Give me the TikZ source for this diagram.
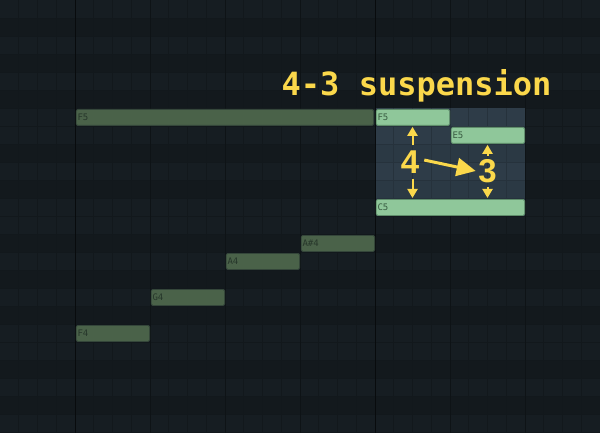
\documentclass[tikz,border=0pt]{standalone}
\usepackage{fontspec}
\usetikzlibrary{positioning}
\usetikzlibrary{arrows.meta}
\newfontfamily\monofont{DejaVu Sans Mono}
\newfontfamily\digitfont{Liberation Sans}
\definecolor{bgRow}{HTML}{161D22}
\definecolor{bgBlack}{HTML}{13191D}
\definecolor{gridStep}{HTML}{12181C}
\definecolor{gridBeat}{HTML}{0E1316}
\definecolor{gridBar}{HTML}{080B0D}
\definecolor{selBg}{HTML}{2E3C48}
\definecolor{selBlack}{HTML}{2B3944}
\definecolor{selGrid}{HTML}{26323C}
\definecolor{noteFill}{HTML}{4A6249}
\definecolor{noteEdge}{HTML}{34463A}
\definecolor{noteText}{HTML}{26362A}
\definecolor{selFill}{HTML}{8FC79A}
\definecolor{selEdge}{HTML}{5E8C6A}
\definecolor{selText}{HTML}{385A40}
\definecolor{markYellow}{HTML}{FBD84B}
\newcommand{\Rh}{18}
\newcommand{\Sw}{18.75}
\tikzstyle{note} = [draw=noteEdge, fill=noteFill, rounded corners=1.5pt, line width=0.8pt, minimum height=16pt, inner sep=0pt, anchor=north west]
\tikzstyle{selnote} = [note, draw=selEdge, fill=selFill]
\tikzstyle{notelbl} = [inner sep=0pt, text=noteText, font=\monofont\fontsize{9}{9}\selectfont]
\tikzstyle{sellbl} = [notelbl, text=selText]
\tikzstyle{digit} = [inner sep=0pt, text=markYellow, font=\digitfont\bfseries\fontsize{33}{33}\selectfont]
\tikzstyle{titletext} = [inner sep=0pt, text=markYellow, font=\monofont\bfseries\fontsize{32}{32}\selectfont]
\tikzstyle{markarrow} = [draw=markYellow, line width=2pt, -{Triangle[width=10pt,length=9pt]}, shorten <=5pt, shorten >=1pt]
\tikzstyle{bigarrow} = [draw=markYellow, line width=3pt, -{Triangle[width=18pt,length=19pt]}, shorten <=5pt, shorten >=2.5pt]

\begin{document}
\begin{tikzpicture}[x=1pt, y=-1pt]
\useasboundingbox (0,0) rectangle (600,433);

% Piano roll background
\fill[bgRow] (0,0) rectangle (600,433);
\foreach \r in {1,3,5,8,10,13,15,17,20,22}
  \fill[bgBlack] (0,\r*\Rh) rectangle (600,\r*\Rh+\Rh);
\foreach \c in {1,...,31}
  \draw[gridStep, line width=0.8pt] (\c*\Sw,0) -- (\c*\Sw,433);
\foreach \r in {1,...,24}
  \draw[gridStep, line width=0.8pt] (0,\r*\Rh) -- (600,\r*\Rh);
\foreach \c in {2,3,4,6,7}
  \draw[gridBeat, line width=0.9pt] (\c*75,0) -- (\c*75,433);

% Selection
\fill[selBg] (375,108) rectangle (525,216);
\foreach \r in {8,10}
  \fill[selBlack] (375,\r*\Rh) rectangle (525,\r*\Rh+\Rh);
\foreach \c in {1,...,7}
  \draw[selGrid, line width=0.8pt] (375+\c*\Sw,108) -- (375+\c*\Sw,216);
\foreach \r in {7,...,11}
  \draw[selGrid, line width=0.8pt] (375,\r*\Rh) -- (525,\r*\Rh);
\foreach \c in {1,5}
  \draw[gridBar, line width=1pt] (\c*75,0) -- (\c*75,433);

% Define nodes
\node[note, minimum width=297.5pt]      (f5long) at (75.8,109)  {};
\node[note, minimum width=73.5pt]       (as4)    at (300.8,235) {};
\node[note, minimum width=73.5pt]       (a4)     at (225.8,253) {};
\node[note, minimum width=73.5pt]       (g4)     at (150.8,289) {};
\node[note, minimum width=73.5pt]       (f4)     at (75.8,325)  {};
\node[selnote, minimum width=73.5pt]    (f5sel)  at (375.8,109) {};
\node[selnote, minimum width=73.5pt]    (e5sel)  at (450.8,127) {};
\node[selnote, minimum width=148.5pt]   (c5sel)  at (375.8,199) {};

\node[notelbl, right=1.5pt of f5long.west] (f5longlbl) {F5};
\node[notelbl, right=1.5pt of as4.west]    (as4lbl)    {A\#4};
\node[notelbl, right=1.5pt of a4.west]     (a4lbl)     {A4};
\node[notelbl, right=1.5pt of g4.west]     (g4lbl)     {G4};
\node[notelbl, right=1.5pt of f4.west]     (f4lbl)     {F4};
\node[sellbl, right=1.5pt of f5sel.west]   (f5sellbl)  {F5};
\node[sellbl, right=1.5pt of e5sel.west]   (e5sellbl)  {E5};
\node[sellbl, right=1.5pt of c5sel.west]   (c5sellbl)  {C5};

\node[titletext, anchor=base west] (title) at (281.5,96) {4-3 suspension};
\node[digit] (four)  at (410,162)   {4};
\node[digit] (three) at (487.5,171.5) {3};

% Edges
\draw[markarrow] ([xshift=2.5pt]four.north) -- ([xshift=2.5pt]four.north |- f5sel.south);
\draw[markarrow] ([xshift=2.5pt]four.south) -- ([xshift=2.5pt]four.south |- c5sel.north);
\draw[markarrow, shorten <=4pt] (three.north) -- (three.north |- e5sel.south);
\draw[markarrow, shorten <=4pt] (three.south) -- (three.south |- c5sel.north);
\draw[bigarrow] ([yshift=3pt]four.east) -- (three.west);
\end{tikzpicture}
\end{document}
